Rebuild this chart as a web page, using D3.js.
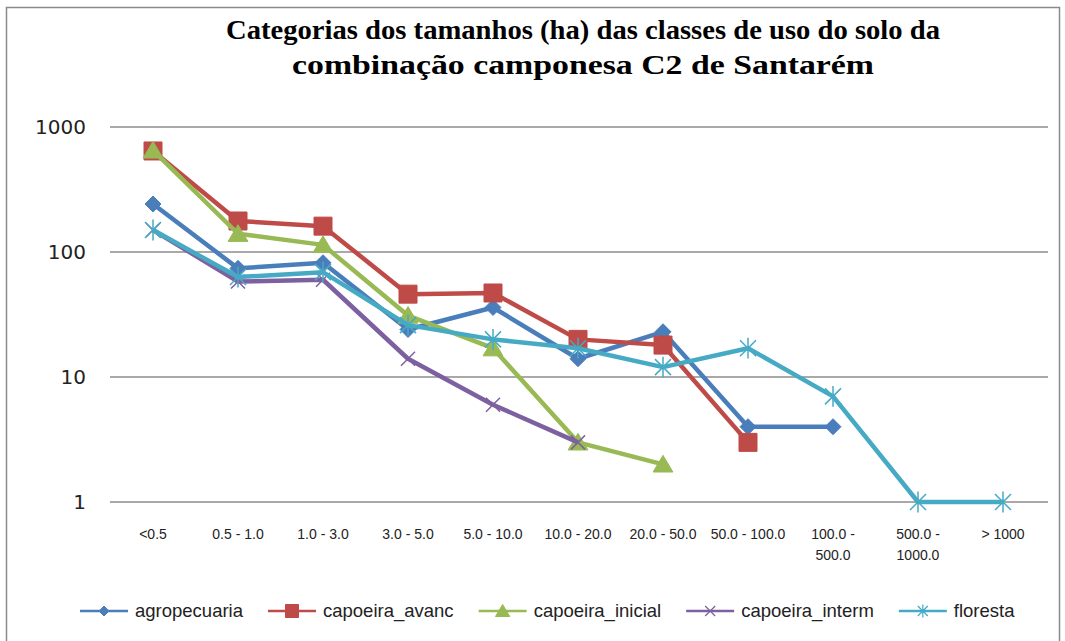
<!DOCTYPE html>
<html>
<head>
<meta charset="utf-8">
<script src="https://cdn.jsdelivr.net/npm/d3@7"></script>
<style>
  body { margin: 0; background: #fff; }
  svg { display: block; }
</style>
</head>
<body>
<div id="chart"></div>
<script>
var width = 1065,
    height = 641;

// data
var categories = ["<0.5", "0.5 - 1.0", "1.0 - 3.0", "3.0 - 5.0", "5.0 - 10.0", "10.0 - 20.0",
                  "20.0 - 50.0", "50.0 - 100.0", "100.0 -\n500.0", "500.0 -\n1000.0", "> 1000"];
var seriesNames = ["agropecuaria", "capoeira_avanc", "capoeira_inicial", "capoeira_interm", "floresta"];
var agropecuaria    = [242, 74, 82, 24, 36, 14, 23, 4, 4, null, null];
var capoeira_avanc  = [643, 177, 161, 46, 47, 20, 18, 3, null, null, null];
var capoeira_inicial = [650, 140, 114, 31, 17, 3, 2, null, null, null, null];
var capoeira_interm = [150, 58, 60, 14, 6, 3, null, null, null, null, null];
var floresta        = [150, 63, 69, 26, 20, 17, 12, 17, 7, 1, 1];
var yTicks = [1, 10, 100, 1000];

var seriesValues = [agropecuaria, capoeira_avanc, capoeira_inicial, capoeira_interm, floresta];
var colors = ["#4a7ebb", "#be4b48", "#98b954", "#7d60a0", "#46aac5"];
var markers = ["diamond", "square", "triangle", "x", "star"];

var svg = d3.select("#chart")
    .append("svg")
    .attr("width", width)
    .attr("height", height);

// chart frame
svg.append("rect")
    .attr("x", 6.5).attr("y", 7.5)
    .attr("width", 1053).attr("height", 650)
    .attr("fill", "#fff")
    .attr("stroke", "#8a8a8a")
    .attr("stroke-width", 1.5);

// title
var title = svg.append("g")
    .attr("font-family", "'Liberation Serif', 'DejaVu Serif', serif")
    .attr("font-weight", "bold")
    .attr("text-anchor", "middle")
    .attr("fill", "#000");

title.append("text")
    .attr("x", 583).attr("y", 39)
    .attr("font-size", 28)
    .attr("textLength", 714)
    .attr("lengthAdjust", "spacingAndGlyphs")
    .text("Categorias dos tamanhos (ha) das classes de uso do solo da");

title.append("text")
    .attr("x", 583).attr("y", 74)
    .attr("font-size", 28)
    .attr("textLength", 582)
    .attr("lengthAdjust", "spacingAndGlyphs")
    .text("combinação camponesa C2 de Santarém");

// scales
var x = d3.scaleBand()
    .domain(categories)
    .range([110.5, 1045.5]);

var y = d3.scaleLog()
    .domain([1, 1000])
    .range([502, 127]);

// gridlines + y labels
var yAxis = svg.append("g");
yAxis.selectAll(".grid")
    .data(yTicks)
    .enter().append("line")
    .attr("class", "grid")
    .attr("x1", 110).attr("x2", 1048)
    .attr("y1", function(d) { return y(d); })
    .attr("y2", function(d) { return y(d); })
    .attr("stroke", "#8c8c8c")
    .attr("stroke-width", 1.5);

yAxis.selectAll(".ylab")
    .data(yTicks)
    .enter().append("text")
    .attr("class", "ylab")
    .attr("x", 86)
    .attr("y", function(d) { return y(d); })
    .attr("dy", "0.36em")
    .attr("text-anchor", "end")
    .attr("font-family", "'DejaVu Sans', sans-serif")
    .attr("font-size", 20)
    .attr("fill", "#222")
    .text(function(d) { return d; });

// x labels
var xLab = svg.append("g")
    .attr("font-family", "'Liberation Sans Narrow', 'Liberation Sans', sans-serif")
    .attr("font-size", 14)
    .attr("fill", "#222")
    .attr("text-anchor", "middle");

xLab.selectAll("text")
    .data(categories)
    .enter().append("text")
    .attr("x", function(d) { return x(d) + x.bandwidth() / 2; })
    .attr("y", 539)
    .each(function(d) {
      var parts = d.split("\n");
      var el = d3.select(this);
      parts.forEach(function(p, i) {
        el.append("tspan")
          .attr("x", x(d) + x.bandwidth() / 2)
          .attr("dy", i == 0 ? 0 : 21)
          .text(p);
      });
    });

// marker shapes
function markerPath(type, s) {
  if (type == "diamond") return "M0," + (-s) + "L" + s + ",0L0," + s + "L" + (-s) + ",0Z";
  if (type == "square") return "M" + (-s) + "," + (-s) + "H" + s + "V" + s + "H" + (-s) + "Z";
  if (type == "triangle") return "M0," + (-s) + "L" + (s * 1.1) + "," + (s * 0.85) + "H" + (-s * 1.1) + "Z";
  if (type == "x") return "M" + (-s) + "," + (-s) + "L" + s + "," + s + "M" + (-s) + "," + s + "L" + s + "," + (-s);
  // star: x plus vertical line
  return "M" + (-s) + "," + (-s) + "L" + s + "," + s + "M" + (-s) + "," + s + "L" + s + "," + (-s) +
         "M0," + (-s * 1.3) + "V" + (s * 1.3);
}
var markerSize = { diamond: 8, square: 9, triangle: 9, x: 7, star: 8 };
var legendSize = { diamond: 5, square: 6.5, triangle: 6.5, x: 5, star: 5 };

function isStroke(type) { return type == "x" || type == "star"; }

var line = d3.line()
    .defined(function(d) { return d.v != null; })
    .x(function(d) { return x(d.c) + x.bandwidth() / 2; })
    .y(function(d) { return y(d.v); });

seriesNames.forEach(function(name, si) {
  var pts = categories.map(function(c, i) { return { c: c, v: seriesValues[si][i] }; });
  var g = svg.append("g").attr("class", "series");

  g.append("path")
    .datum(pts)
    .attr("d", line)
    .attr("fill", "none")
    .attr("stroke", colors[si])
    .attr("stroke-width", 4.5)
    .attr("stroke-linejoin", "round");

  var type = markers[si];
  g.selectAll(".mk")
    .data(pts.filter(function(d) { return d.v != null; }))
    .enter().append("path")
    .attr("class", "mk")
    .attr("transform", function(d) {
      return "translate(" + (x(d.c) + x.bandwidth() / 2) + "," + y(d.v) + ")";
    })
    .attr("d", markerPath(type, markerSize[type]))
    .attr("fill", isStroke(type) ? "none" : colors[si])
    .attr("stroke", colors[si])
    .attr("stroke-width", isStroke(type) ? 1.5 : 1);
});

// legend
var legend = svg.append("g")
    .attr("font-family", "'Liberation Sans Narrow', 'Liberation Sans', sans-serif")
    .attr("font-size", 18.5)
    .attr("fill", "#222");

var lx = 80, ly = 611;
seriesNames.forEach(function(name, si) {
  var type = markers[si];
  var item = legend.append("g");
  item.append("line")
    .attr("x1", lx).attr("x2", lx + 48)
    .attr("y1", ly).attr("y2", ly)
    .attr("stroke", colors[si])
    .attr("stroke-width", 2.5);
  item.append("path")
    .attr("transform", "translate(" + (lx + 24) + "," + ly + ")")
    .attr("d", markerPath(type, legendSize[type]))
    .attr("fill", isStroke(type) ? "none" : colors[si])
    .attr("stroke", colors[si])
    .attr("stroke-width", isStroke(type) ? 1.2 : 1);
  var txt = item.append("text")
    .attr("x", lx + 55)
    .attr("y", ly)
    .attr("dy", "0.35em")
    .text(name);
  lx = lx + 55 + txt.node().getComputedTextLength() + 25;
});
</script>
</body>
</html>
